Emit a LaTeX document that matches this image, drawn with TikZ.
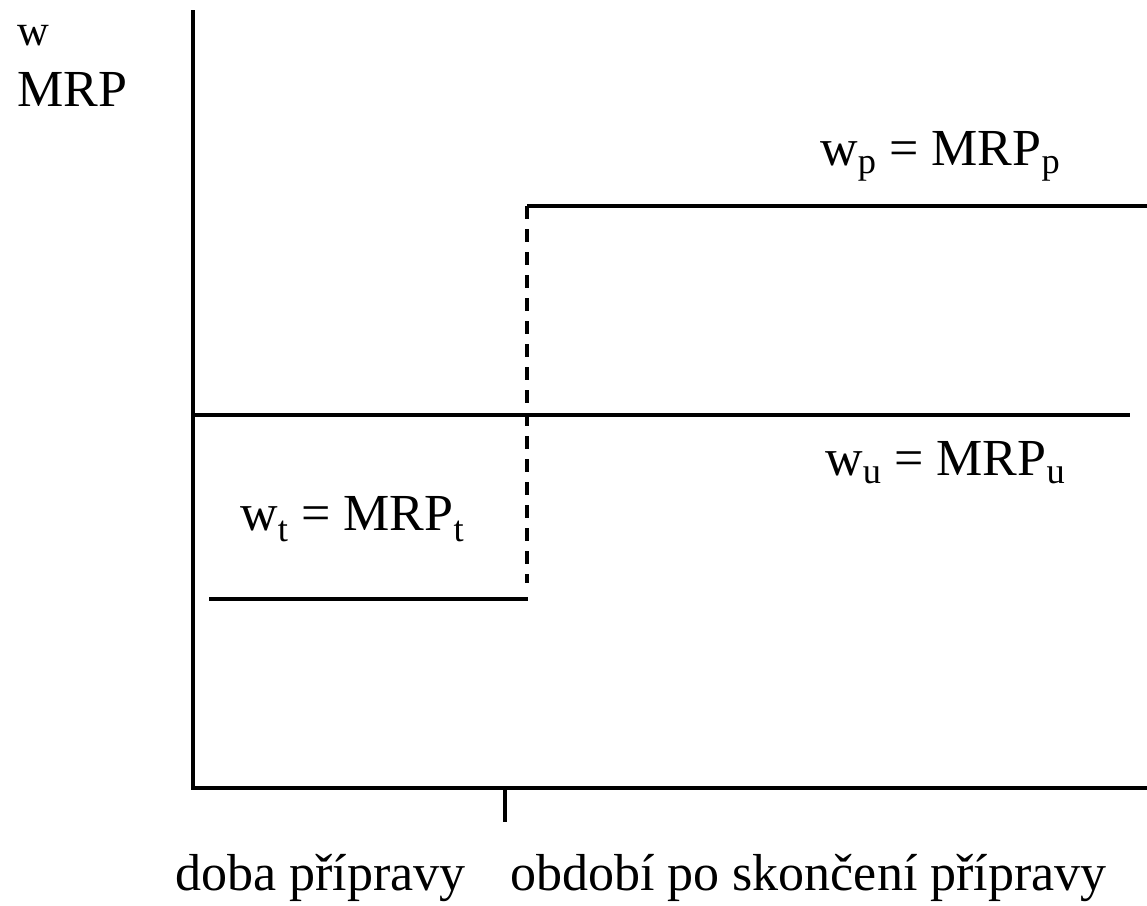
\documentclass[tikz,border=0pt]{standalone}
\usepackage{fontspec}
\setmainfont{Liberation Serif}
\begin{document}
\begin{tikzpicture}[x=1pt,y=-1pt,
  lbl/.style={anchor=base west,inner sep=0pt,font=\fontsize{52}{62}\selectfont},
  ln/.style={line width=3.6pt},
  dsh/.style={line width=3.6pt,dash pattern=on 13pt off 10pt}]
\useasboundingbox (0,0) rectangle (1147,905);
% axes
\coordinate (ytop) at (193,10);
\coordinate (orig) at (193,788);
\coordinate (xend) at (1147,788);
\draw[ln] (ytop) -- (orig) -- (xend);
\coordinate (tk1) at (505,788);
\coordinate (tk2) at (505,822);
\draw[ln] (tk1) -- (tk2);
% wu line
\coordinate (u1) at (193,415);
\coordinate (u2) at (1130,415);
\draw[ln] (u1) -- (u2);
% wp line
\coordinate (p1) at (527,206);
\coordinate (p2) at (1147,206);
\draw[ln] (p1) -- (p2);
% wt line
\coordinate (t1) at (209,599);
\coordinate (t2) at (528,599);
\draw[ln] (t1) -- (t2);
% dashed
\coordinate (d2) at (527,583);
\draw[dsh] (p1) -- (d2);
% labels
\node[lbl,font=\fontsize{44}{52}\selectfont] (w) at (17,45) {w};
\node[lbl] (mrp) at (17,106) {MRP};
\node[lbl] (wp) at (820,165) {w\textsubscript{p} = MRP\textsubscript{p}};
\node[lbl] (wu) at (825,475) {w\textsubscript{u} = MRP\textsubscript{u}};
\node[lbl] (wt) at (240,530) {w\textsubscript{t} = MRP\textsubscript{t}};
\node[lbl] (doba) at (175,890) {doba přípravy};
\node[lbl] (obd) at (510,890) {období po skončení přípravy};
\end{tikzpicture}
\end{document}
